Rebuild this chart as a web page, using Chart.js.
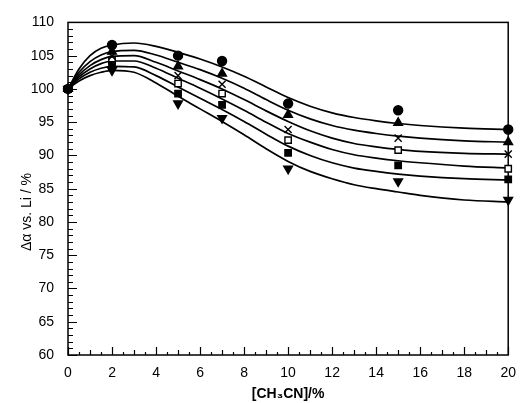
<!DOCTYPE html>
<html>
<head>
<meta charset="utf-8">
<script src="https://cdn.jsdelivr.net/npm/chart.js@4/dist/chart.umd.min.js"></script>
<style>
html,body{margin:0;padding:0;background:#fff;}
#wrap{width:526px;height:403px;position:relative;}
</style>
</head>
<body>
<div id="wrap"><canvas id="c" width="526" height="403"></canvas></div>
<script>
// Measured points
const pointX = [0, 2, 5, 7, 10, 15, 20];
const circleY   = [100, 106.6, 105.0, 104.2, 97.8, 96.8, 93.9];
const triUpY    = [100, 105.6, 103.4, 102.3, 96.1, 94.9, 92.0];
const crossY    = [100, 104.9, 102.0, 100.7, 93.9, 92.6, 90.2];
const openSqY   = [100, 104.3, 100.8, 99.3, 92.3, 90.8, 88.0];
const fillSqY   = [100, 103.6, 99.3, 97.6, 90.4, 88.5, 86.4];
const triDownY  = [100, 102.8, 97.8, 95.6, 88.0, 86.1, 83.3];

// Fitted curves
const curveX = [0, 0.5, 1, 1.5, 2, 3, 4, 5, 6, 7, 8, 9, 10, 11, 12, 13, 14, 15, 16, 18, 20];
const curveA = [100, 103.0, 105.0, 106.1, 106.6, 106.9, 106.4, 105.5, 104.5, 103.3, 101.9, 100.3, 98.7, 97.4, 96.4, 95.7, 95.2, 94.8, 94.5, 94.1, 93.9];
const curveB = [100, 102.5, 104.1, 105.1, 105.6, 105.8, 105.1, 104.0, 102.9, 101.6, 100.1, 98.4, 96.8, 95.5, 94.5, 93.8, 93.3, 92.9, 92.6, 92.2, 92.0];
const curveC = [100, 102.1, 103.5, 104.4, 104.9, 105.0, 104.0, 102.7, 101.4, 100.0, 98.4, 96.7, 95.1, 93.7, 92.6, 91.8, 91.3, 90.9, 90.6, 90.3, 90.2];
const curveD = [100, 101.8, 103.0, 103.8, 104.2, 104.2, 103.1, 101.6, 100.1, 98.5, 96.8, 95.0, 93.3, 92.0, 90.9, 90.1, 89.6, 89.2, 88.9, 88.4, 88.1];
const curveE = [100, 101.5, 102.5, 103.1, 103.4, 103.3, 102.0, 100.3, 98.6, 96.9, 95.1, 93.2, 91.4, 90.0, 88.9, 88.1, 87.6, 87.2, 86.9, 86.5, 86.3];
const curveF = [100, 101.2, 102.0, 102.5, 102.8, 102.5, 100.9, 98.9, 97.0, 95.1, 93.1, 91.0, 89.1, 87.6, 86.5, 85.6, 85.0, 84.5, 84.0, 83.3, 83.0];

const yTicks = [60, 65, 70, 75, 80, 85, 90, 95, 100, 105, 110];
const xTicks = [0, 2, 4, 6, 8, 10, 12, 14, 16, 18, 20];

function pts(xs, ys){ return xs.map((x,i)=>({x:x, y:ys[i]})); }

function curveDs(ys){
  return {type:'line', data:pts(curveX, ys), borderColor:'#000', borderWidth:1.7,
    pointRadius:0, fill:false, cubicInterpolationMode:'monotone', order:3};
}
function markDs(ys, style, fill, rot, r, ord){
  return {type:'scatter', data:pts(pointX, ys), pointStyle:style, pointRadius:r||4.5,
    pointRotation:rot||0, backgroundColor:fill, borderColor:'#000', borderWidth:1.4,
    showLine:false, order:(ord === undefined ? 2 : ord)};
}

const frame = {
  id:'frame',
  beforeDatasetsDraw(chart){
    const {ctx, chartArea:a, scales:{x, y}} = chart;
    ctx.save();
    ctx.strokeStyle = '#000';
    ctx.lineWidth = 1.5;
    ctx.strokeRect(a.left, a.top, a.right - a.left, a.bottom - a.top);
    ctx.lineWidth = 1.2;
    ctx.beginPath();
    for (let v = 60; v <= 110; v += 1){
      const py = Math.round(y.getPixelForValue(v)) + 0.5;
      const len = (v % 5 === 0) ? 9 : 5;
      ctx.moveTo(a.left, py); ctx.lineTo(a.left + len, py);
    }
    for (let v = 0; v <= 20; v += 0.5){
      const px = Math.round(x.getPixelForValue(v)) + 0.5;
      const len = (v % 2 === 0) ? 8 : (v % 1 === 0 ? 5 : 3);
      ctx.moveTo(px, a.bottom); ctx.lineTo(px, a.bottom - len);
    }
    ctx.stroke();
    ctx.restore();
  }
};

new Chart(document.getElementById('c'), {
  type:'scatter',
  data:{datasets:[
    curveDs(curveA), curveDs(curveB), curveDs(curveC), curveDs(curveD), curveDs(curveE), curveDs(curveF),
    markDs(circleY, 'circle', '#000'),
    markDs(triUpY, 'triangle', '#000', 0, 5),
    markDs(crossY, 'crossRot', '#000', 0, 5),
    markDs(openSqY, 'rect', '#fff', 0, 4.5),
    markDs(triDownY, 'triangle', '#000', 180, 5),
    markDs(fillSqY, 'rect', '#000', 0, 4.5, 1)
  ]},
  options:{
    responsive:false, animation:false, clip:false,
    layout:{padding:{top:17, right:2, left:0, bottom:0}},
    plugins:{legend:{display:false}, tooltip:{enabled:false}},
    scales:{
      x:{type:'linear', min:0, max:20,
        afterBuildTicks(s){ s.ticks = xTicks.map(v=>({value:v})); },
        afterFit(s){ s.height = 48; },
        grid:{display:false, drawTicks:false}, border:{display:false},
        ticks:{color:'#000', padding:10, maxRotation:0, font:{family:'Liberation Sans', size:14}},
        title:{display:true, text:'[CH₃CN]/%', color:'#000', padding:{top:2, bottom:0},
          font:{family:'Liberation Sans', size:14, weight:'bold'}}
      },
      y:{type:'linear', min:60, max:110,
        afterBuildTicks(s){ s.ticks = yTicks.map(v=>({value:v})); },
        afterFit(s){ s.width = 68; },
        grid:{display:false, drawTicks:false}, border:{display:false},
        ticks:{color:'#000', padding:14, font:{family:'Liberation Sans', size:14}},
        title:{display:true, text:'Δα vs. Li / %\u00a0\u00a0\u00a0\u00a0\u00a0\u00a0\u00a0\u00a0\u00a0\u00a0\u00a0\u00a0', color:'#000', padding:{top:19, bottom:0},
          font:{family:'Liberation Sans', size:14}}
      }
    }
  },
  plugins:[frame]
});
</script>
</body>
</html>
